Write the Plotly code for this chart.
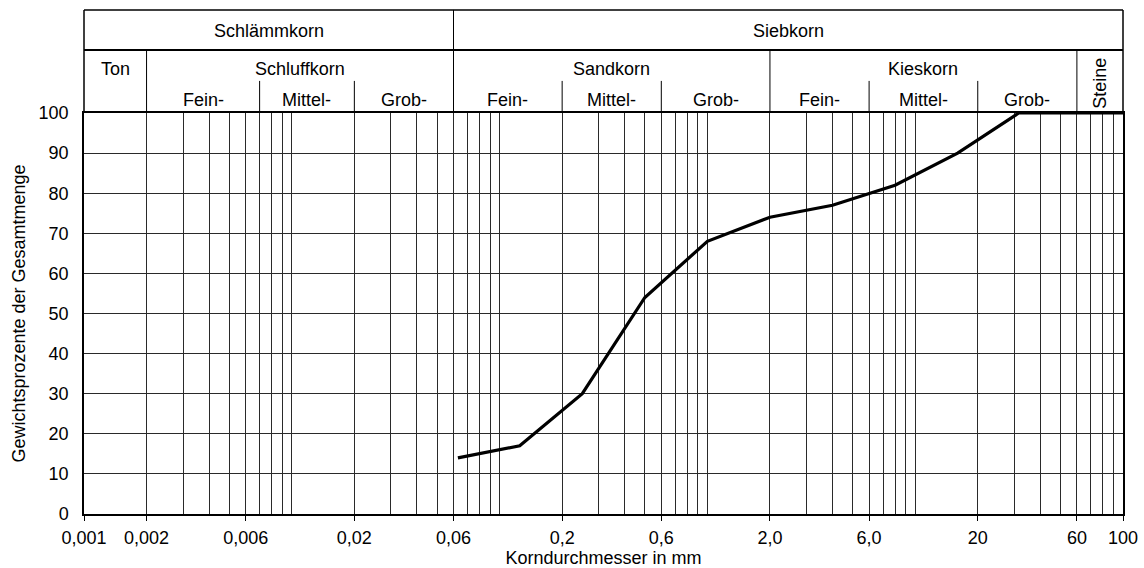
import math
import plotly.graph_objects as go

# Grain-size distribution (Sieblinie)
diameter_mm = [0.063, 0.125, 0.25, 0.5, 1.0, 2.0, 4.0, 8.0, 16.0, 31.5, 100.0]
passing_pct = [14, 17, 30, 54, 68, 74, 77, 82, 90, 100, 100]

x_tick_vals = [0.001, 0.002, 0.006, 0.02, 0.06, 0.2, 0.6, 2.0, 6.0, 20, 60, 100]
x_tick_text = ["0,001", "0,002", "0,006", "0,02", "0,06", "0,2", "0,6", "2,0", "6,0", "20", "60", "100"]

# Header classification: (label, lower bound, upper bound)
top_groups = [("Schlämmkorn", 0.001, 0.06), ("Siebkorn", 0.06, 100)]
main_groups = [("Ton", 0.001, 0.002), ("Schluffkorn", 0.002, 0.06),
               ("Sandkorn", 0.06, 2.0), ("Kieskorn", 2.0, 60)]
sub_groups = [("Fein-", 0.002, 0.007), ("Mittel-", 0.007, 0.02), ("Grob-", 0.02, 0.06),
              ("Fein-", 0.06, 0.2), ("Mittel-", 0.2, 0.6), ("Grob-", 0.6, 2.0),
              ("Fein-", 2.0, 6.0), ("Mittel-", 6.0, 20), ("Grob-", 20, 60)]
stone_group = ("Steine", 60, 100)

FONT = "Liberation Sans, Arial, sans-serif"
FS = 18
GRID = "#2a2a2a"

# log grid lines at 1..9 x 10^k
minor_vals = [m * 10.0 ** e for e in range(-3, 2) for m in range(1, 10)] + [100.0]

fig = go.Figure()
fig.add_trace(go.Scatter(
    x=diameter_mm, y=passing_pct, mode="lines",
    line=dict(color="black", width=3.2), showlegend=False, hoverinfo="skip"))

# paper-y levels of header rows
Y_TOP = 1.257
Y_ROW = 1.157
Y_SUB = 1.08

shapes = []
line_k = dict(color="black", width=1.5)
line_t = dict(color="black", width=1)
# outer frame of header
shapes.append(dict(type="line", xref="paper", yref="paper", x0=0, x1=1, y0=Y_TOP, y1=Y_TOP, line=line_k))
shapes.append(dict(type="line", xref="paper", yref="paper", x0=0, x1=1, y0=Y_ROW, y1=Y_ROW, line=dict(color="black", width=2)))
shapes.append(dict(type="line", xref="paper", yref="paper", x0=0, x1=0, y0=1, y1=Y_TOP, line=line_k))
shapes.append(dict(type="line", xref="paper", yref="paper", x0=1, x1=1, y0=1, y1=Y_TOP, line=line_k))
# divider between Schlämmkorn and Siebkorn
shapes.append(dict(type="line", xref="x", yref="paper", x0=0.06, x1=0.06, y0=1, y1=Y_TOP, line=line_t))
# full-height dividers in second row
for v in [0.002, 2.0, 60]:
    shapes.append(dict(type="line", xref="x", yref="paper", x0=v, x1=v, y0=1, y1=Y_ROW, line=line_t))
# short sub-dividers
for v in [0.007, 0.02, 0.2, 0.6, 6.0, 20]:
    shapes.append(dict(type="line", xref="x", yref="paper", x0=v, x1=v, y0=1, y1=Y_SUB, line=line_t))


def mid(a, b):
    return (math.log10(a) + math.log10(b)) / 2


def label(text, a, b, y, angle=0):
    return dict(text=text, x=mid(a, b), y=y, xref="x", yref="paper",
                xanchor="center", yanchor="middle", textangle=angle, showarrow=False,
                font=dict(family=FONT, size=FS, color="black"))


annotations = []
for t, a, b in top_groups:
    annotations.append(label(t, a, b, 1.205))
for t, a, b in main_groups:
    annotations.append(label(t, a, b, 1.11))
for t, a, b in sub_groups:
    annotations.append(label(t, a, b, 1.033))
annotations.append(label(stone_group[0], stone_group[1], stone_group[2], 1.075, angle=-90))

fig.update_layout(
    width=1144, height=568,
    margin=dict(l=84, r=21, t=113, b=54),
    paper_bgcolor="white", plot_bgcolor="white",
    font=dict(family=FONT, size=FS, color="black"),
    shapes=shapes, annotations=annotations,
)

fig.update_xaxes(
    type="log", range=[-3, 2], automargin=False,
    tickvals=x_tick_vals, ticktext=x_tick_text,
    ticks="outside", ticklen=5, tickcolor="black", tickwidth=1,
    ticklabelstandoff=2,
    showgrid=True, gridcolor=GRID, gridwidth=1,
    minor=dict(tickvals=minor_vals, showgrid=True, gridcolor=GRID, gridwidth=1, ticks=""),
    showline=True, linecolor="black", linewidth=1.5, mirror=True,
    title=dict(text="Korndurchmesser in mm", font=dict(family=FONT, size=FS), standoff=6),
    zeroline=False,
)
fig.update_yaxes(
    range=[0, 100], dtick=10, automargin=False,
    ticks="outside", ticklen=10, tickcolor="rgba(0,0,0,0)",
    showgrid=True, gridcolor=GRID, gridwidth=1,
    showline=True, linecolor="black", linewidth=1.5, mirror=True,
    title=dict(text="Gewichtsprozente der Gesamtmenge", font=dict(family=FONT, size=FS), standoff=8),
    zeroline=False,
)

fig.write_html("out.html")
